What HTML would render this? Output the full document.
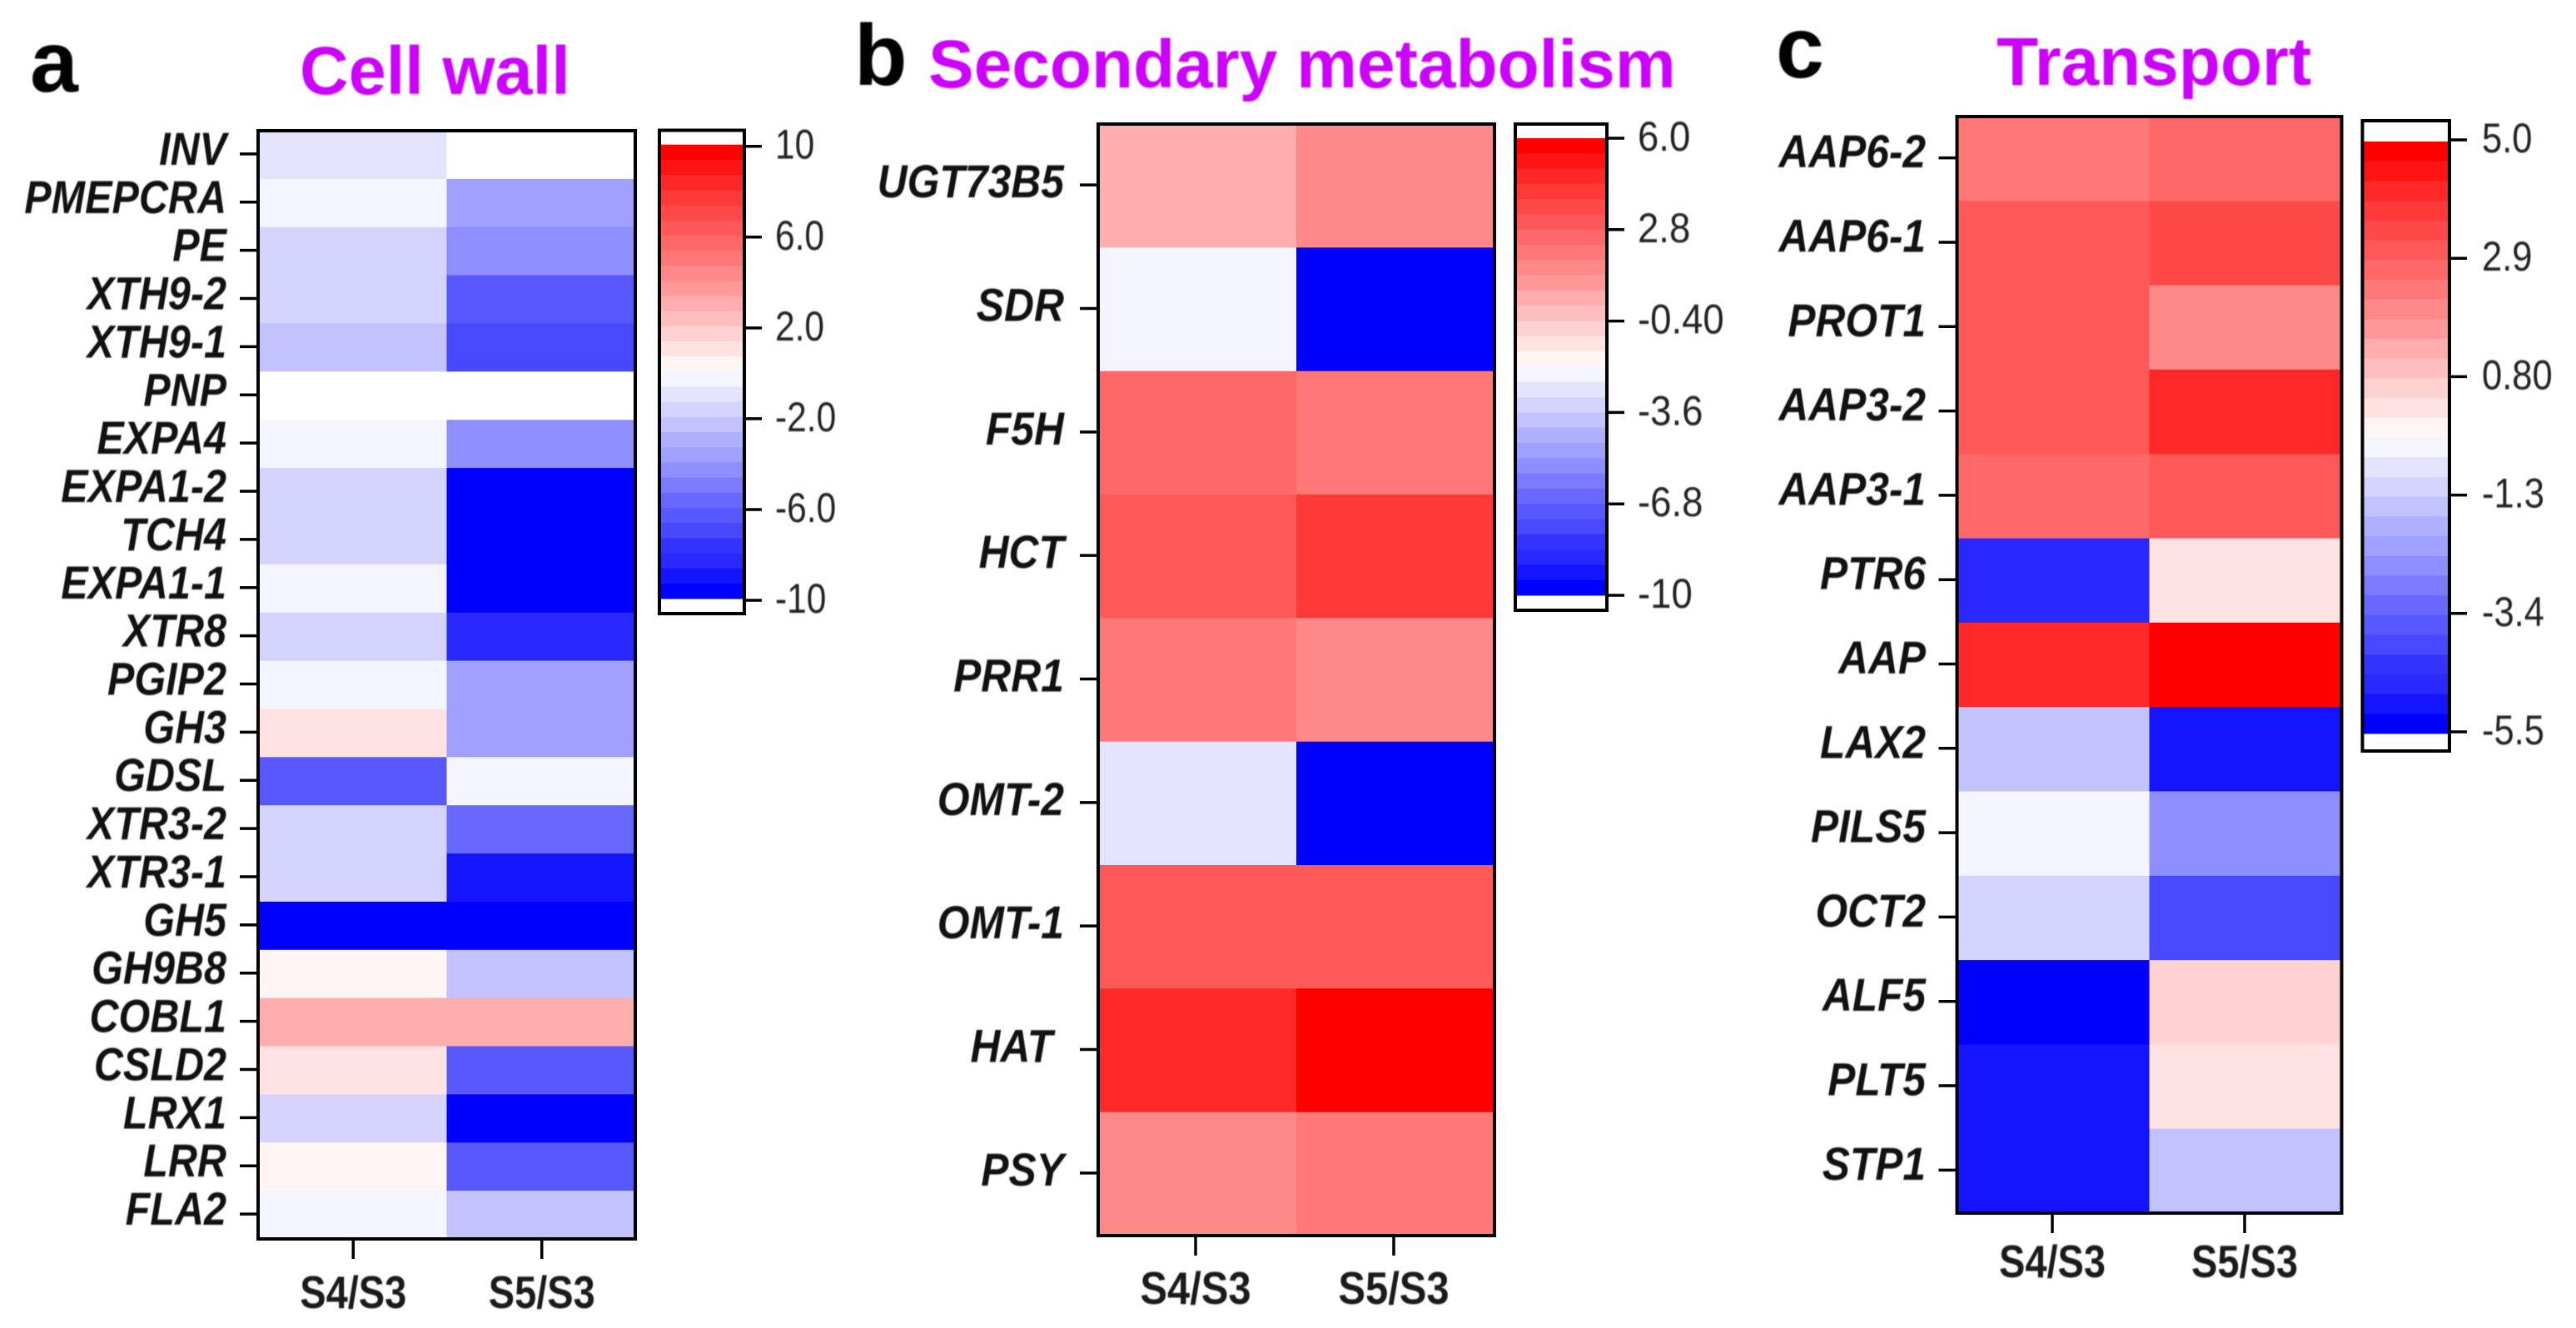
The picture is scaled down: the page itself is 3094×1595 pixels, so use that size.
<!DOCTYPE html>
<html lang="en">
<head>
<meta charset="utf-8">
<title>Heatmaps: Cell wall, Secondary metabolism, Transport</title>
<style>
html,body{margin:0;padding:0;background:#fff;}
svg{display:block;}
text{font-family:"Liberation Sans",Arial,sans-serif;filter:blur(0.7px);}
</style>
</head>
<body>
<svg id="figure" xmlns="http://www.w3.org/2000/svg" width="3094" height="1595" viewBox="0 0 3094 1595">
  <rect x="0" y="0" width="3094" height="1595" fill="#ffffff"/>
</svg>
<script>
// ---------- chart data ----------
const columnLabels = ['S4/S3', 'S5/S3'];

const genesA = ['INV','PMEPCRA','PE','XTH9-2','XTH9-1','PNP','EXPA4','EXPA1-2','TCH4','EXPA1-1','XTR8','PGIP2','GH3','GDSL','XTR3-2','XTR3-1','GH5','GH9B8','COBL1','CSLD2','LRX1','LRR','FLA2'];
const s4A = [-1,-0.33,-1.67,-1.67,-2.33,null,-0.33,-1.67,-1.67,-0.33,-1.67,-0.33,1,-6.33,-1.67,-1.67,-9.67,0.33,3,1,-1.67,0.33,-0.33];
const s5A = [null,-3.67,-4.33,-6.33,-7,null,-4.33,-9.67,-9.67,-9.67,-8.33,-3.67,-3.67,-0.33,-5.67,-9,-9.67,-2.33,3,-6.33,-9.67,-6.33,-2.33];
const scaleTicksA = ['10','6.0','2.0','-2.0','-6.0','-10'];

const genesB = ['UGT73B5','SDR','F5H','HCT','PRR1','OMT-2','OMT-1','HAT ','PSY'];
const s4B = [0.4,-2.27,2.53,3.07,2,-2.8,3.07,4.67,1.47];
const s5B = [1.47,-9.73,2,4.13,1.47,-9.73,3.07,5.73,2];
const scaleTicksB = ['6.0','2.8','-0.40','-3.6','-6.8','-10'];

const genesC = ['AAP6-2','AAP6-1','PROT1','AAP3-2','AAP3-1','PTR6','AAP','LAX2','PILS5','OCT2','ALF5','PLT5','STP1'];
const s4C = [2.38,3.08,3.08,3.08,2.73,-4.63,4.13,-1.48,-0.43,-1.13,-5.33,-4.98,-4.98];
const s5C = [2.73,3.43,2.03,4.13,3.08,0.28,4.83,-4.98,-2.53,-3.93,0.63,0.28,-1.48];
const scaleTicksC = ['5.0','2.9','0.80','-1.3','-3.4','-5.5'];

// ---------- colour scale (30 stepped bins, 15 red + 15 blue) ----------
const BIN_COUNT = 30;
const redRamp = [0,20,40,56,72,88,104,120,136,152,173,190,210,226,245];
const blueRamp = [0,20,40,52,72,88,104,122,142,160,176,194,212,228,245];

function colorFor(value, min, max) {
  if (value === null) return '#ffffff';
  let bin = Math.floor((max - value) / (max - min) * BIN_COUNT);
  bin = Math.max(0, Math.min(BIN_COUNT - 1, bin));
  if (bin < 15) {
    const c = redRamp[bin];
    return 'rgb(255,' + c + ',' + c + ')';
  }
  const c = blueRamp[BIN_COUNT - 1 - bin];
  return 'rgb(' + c + ',' + c + ',255)';
}

// ---------- helpers ----------
const SVG_NS = 'http://www.w3.org/2000/svg';
const figure = document.getElementById('figure');

function mk(parent, tag, attrs, content) {
  const el = document.createElementNS(SVG_NS, tag);
  for (const key in attrs) el.setAttribute(key, attrs[key]);
  if (content !== undefined) el.textContent = content;
  parent.appendChild(el);
  return el;
}

function slug(s) {
  return s.trim().toLowerCase().replace(/[^a-z0-9]+/g, '-');
}

function drawPanel(p) {
  const group = mk(figure, 'g', {});
  
  

  const letter = mk(group, 'text', {x: p.letterX, y: p.letterY, 'font-size': 104, 'font-weight': 'bold', fill: '#000'}, p.letter);
  
  

  const title = mk(group, 'text', {
    transform: 'translate(' + p.titleX + ',' + p.titleY + ') scale(' + p.titleScale + ',1)',
    'font-size': 82, 'font-weight': 'bold', fill: '#cc00ff'
  }, p.title);
  
  

  // axis functions
  const m = p.plot;
  const rowH = (m.bottom - m.top) / p.genes.length;
  const colW = (m.right - m.left) / columnLabels.length;
  const xBand = function (i) { return m.left + i * colW; };
  const yBand = function (i) { return m.top + i * rowH; };
  const xCenter = function (i) { return xBand(i) + colW / 2 + p.xTickShift; };
  const yCenter = function (i) { return yBand(i) + rowH / 2 + p.yTickShift; };

  // cells
  p.series.forEach(function (values, col) {
    values.forEach(function (v, row) {
      const cell = mk(group, 'rect', {
        x: xBand(col), y: yBand(row), width: colW + (col === 0 ? 0.5 : 0), height: rowH + 0.5,
        fill: colorFor(v, p.min, p.max)
      });
      
      
    });
  });

  const frame = mk(group, 'rect', {x: m.left, y: m.top, width: m.right - m.left, height: m.bottom - m.top, fill: 'none', stroke: '#000', 'stroke-width': 4});
  
  

  // gene ticks + labels
  p.genes.forEach(function (gene, row) {
    const y = yCenter(row);
    const tick = mk(group, 'line', {x1: m.left - 22, x2: m.left, y1: y, y2: y, stroke: '#000', 'stroke-width': 3.5});
    
    
    const label = mk(group, 'text', {
      transform: 'translate(' + p.geneLabelX + ',' + (y + p.geneBaseline) + ') scale(' + p.geneScale + ',1)',
      'text-anchor': 'end', 'font-size': 56, 'font-weight': 'bold', 'font-style': 'italic', fill: '#111',
      'xml:space': 'preserve'
    }, gene);
    label.style.whiteSpace = 'pre';
    
    
  });

  // column ticks + labels
  columnLabels.forEach(function (name, col) {
    const x = xCenter(col);
    const tick = mk(group, 'line', {x1: x, x2: x, y1: m.bottom, y2: m.bottom + 24, stroke: '#000', 'stroke-width': 3.5});
    
    
    const label = mk(group, 'text', {
      transform: 'translate(' + x + ',' + p.columnBaseline + ') scale(' + p.columnScale + ',1)',
      'text-anchor': 'middle', 'font-size': 55, 'font-weight': 'bold', fill: '#1a1a1a'
    }, name);
    
    
  });

  // colour bar
  const b = p.bar;
  const yBar = function (v) { return b.bandTop + (p.max - v) / (p.max - p.min) * (b.bandBottom - b.bandTop); };
  const binH = (b.bandBottom - b.bandTop) / BIN_COUNT;
  const legend = mk(group, 'g', {});
  
  
  mk(legend, 'rect', {x: b.left, y: b.top, width: b.right - b.left, height: b.bottom - b.top, fill: '#fff'});
  for (let i = 0; i < BIN_COUNT; i++) {
    const mid = p.max - (i + 0.5) * (p.max - p.min) / BIN_COUNT;
    const band = mk(legend, 'rect', {x: b.left, y: yBar(mid) - binH / 2, width: b.right - b.left, height: binH + 0.4, fill: colorFor(mid, p.min, p.max)});
    
    
  }
  const barFrame = mk(legend, 'rect', {x: b.left, y: b.top, width: b.right - b.left, height: b.bottom - b.top, fill: 'none', stroke: '#000', 'stroke-width': 4});
  
  
  p.ticks.forEach(function (labelText) {
    const y = yBar(Number(labelText)) + b.tickShift;
    const tick = mk(legend, 'line', {x1: b.right, x2: b.right + 21, y1: y, y2: y, stroke: '#000', 'stroke-width': 3.5});
    
    
    const label = mk(legend, 'text', {
      transform: 'translate(' + b.labelX + ',' + (y + 15) + ') scale(' + b.labelScale + ',1)',
      'font-size': 50, fill: '#222'
    }, labelText);
    
    
  });
}

drawPanel({
  letter: 'a', letterX: 36, letterY: 110,
  title: 'Cell wall', titleX: 360, titleY: 113, titleScale: 0.99,
  genes: genesA, series: [s4A, s5A], ticks: scaleTicksA, min: -10, max: 10,
  plot: {left: 310, right: 763, top: 157, bottom: 1488},
  xTickShift: 1, yTickShift: -1,
  geneLabelX: 272, geneBaseline: 13, geneScale: 0.867,
  columnBaseline: 1571, columnScale: 0.855,
  bar: {left: 792, right: 894, top: 156.5, bottom: 737, bandTop: 173.7, bandBottom: 719, tickShift: 2, labelX: 931, labelScale: 0.85}
});

drawPanel({
  letter: 'b', letterX: 1026, letterY: 102,
  title: 'Secondary metabolism', titleX: 1115, titleY: 105, titleScale: 1.0,
  genes: genesB, series: [s4B, s5B], ticks: scaleTicksB, min: -10, max: 6,
  plot: {left: 1319, right: 1795, top: 149, bottom: 1484},
  xTickShift: -2, yTickShift: -1,
  geneLabelX: 1278, geneBaseline: 15, geneScale: 0.89,
  columnBaseline: 1566, columnScale: 0.89,
  bar: {left: 1820, right: 1930, top: 149, bottom: 733, bandTop: 166, bandBottom: 715, tickShift: 0, labelX: 1967, labelScale: 0.91}
});

drawPanel({
  letter: 'c', letterX: 2133, letterY: 93,
  title: 'Transport', titleX: 2398, titleY: 102, titleScale: 1.0,
  genes: genesC, series: [s4C, s5C], ticks: scaleTicksC, min: -5.5, max: 5,
  plot: {left: 2350.5, right: 2812.5, top: 140, bottom: 1457},
  xTickShift: -1, yTickShift: -1,
  geneLabelX: 2313, geneBaseline: 11.5, geneScale: 0.887,
  columnBaseline: 1534, columnScale: 0.855,
  bar: {left: 2837.5, right: 2942, top: 145, bottom: 902, bandTop: 170, bandBottom: 881, tickShift: -2, labelX: 2981, labelScale: 0.87}
});
</script>
</body>
</html>
